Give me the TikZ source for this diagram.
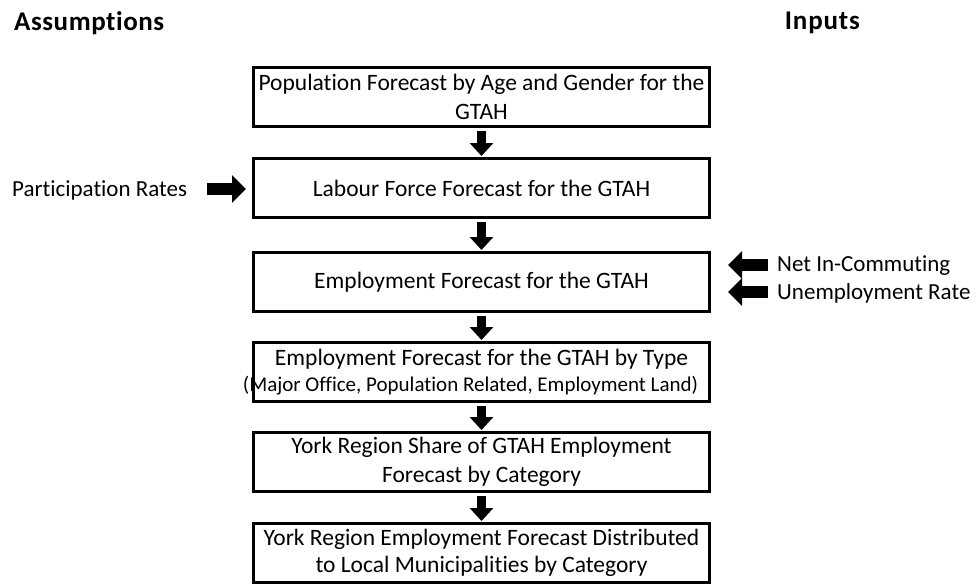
\documentclass[tikz,border=0pt]{standalone}
\usepackage{fontspec}
\setmainfont{Carlito}[Ligatures=CommonOff]
\newfontfamily\ttlfontA{Carlito}[Ligatures=CommonOff,LetterSpace=2]
\newfontfamily\ttlfontB{Carlito}[Ligatures=CommonOff,LetterSpace=3]
\usetikzlibrary{arrows.meta}
\begin{document}
\begin{tikzpicture}[x=1pt,y=-1pt,
  flowbox/.style={draw=black, line width=3pt, minimum width=456pt, minimum height=59pt,
    inner sep=0pt, align=center, font=\fontsize{23.5}{28.5}\selectfont},
  lbl/.style={inner sep=0pt, font=\fontsize{23}{28}\selectfont},
  blockdown/.style={line width=9pt, -{Triangle[width=23pt,length=13pt]}},
  blockside/.style={line width=12pt, -{Triangle[width=27pt,length=14pt]}}
]
\useasboundingbox (0,0) rectangle (976,584);
\node[inner sep=0pt, anchor=west, font=\ttlfontA\fontsize{27}{30}\selectfont\bfseries] (tA) at (14,23) {Assumptions};
\node[inner sep=0pt, anchor=east, font=\ttlfontB\fontsize{27}{30}\selectfont\bfseries] (tI) at (860,23) {Inputs};

\node[flowbox] (b1) at (481.5,97) {Population Forecast by Age and Gender for the\\GTAH};
\node[flowbox] (b2) at (481.5,188) {Labour Force Forecast for the GTAH};
\node[flowbox] (b3) at (481.5,282) {Employment Forecast for the GTAH};
\node[flowbox] (b4) at (481.5,372) {Employment Forecast for the GTAH by Type\\[-3pt]\makebox[0pt]{\hspace*{-22pt}\fontsize{21}{26}\selectfont (Major Office, Population Related, Employment Land)}};
\node[flowbox] (b5) at (481.5,462) {York Region Share of GTAH Employment\\Forecast by Category};
\node[flowbox] (b6) at (481.5,553) {York Region Employment Forecast Distributed\\[-2pt]to Local Municipalities by Category};

\foreach \a/\b in {b1/b2,b2/b3,b3/b4,b4/b5,b5/b6}{
  \draw[blockdown] ([yshift=-3pt]\a.south) -- ([yshift=1pt]\b.north);
}

\node[lbl, anchor=west] (pr) at (12,190) {Participation Rates};
\coordinate (prs) at (207,189);
\draw[blockside] (prs) -- ([xshift=-6pt]b2.west |- prs);

\node[lbl, anchor=west] (nic) at (777,266) {Net In-Commuting};
\node[lbl, anchor=west] (ur) at (777,293) {Unemployment Rate};
\coordinate (nics) at (768,265);
\coordinate (urs) at (768,292);
\draw[blockside] (nics) -- ([xshift=17pt]b3.east |- nics);
\draw[blockside] (urs) -- ([xshift=17pt]b3.east |- urs);
\end{tikzpicture}
\end{document}
